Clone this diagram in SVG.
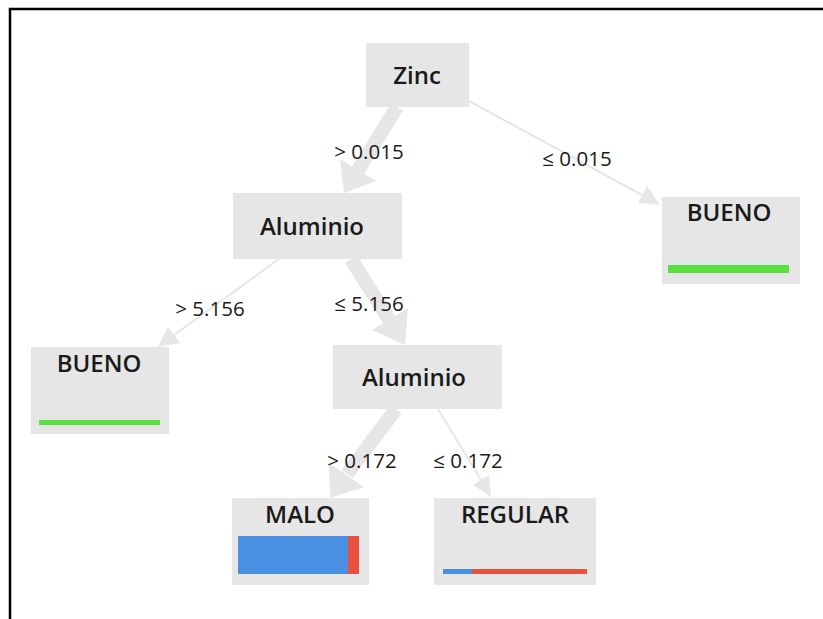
<svg xmlns="http://www.w3.org/2000/svg" width="823" height="619" viewBox="0 0 823 619">
<style>
.node{fill:#e6e6e6}
.title{font-family:"Open Sans","Liberation Sans",sans-serif;font-weight:600;font-size:24px;fill:#1a1a1a;text-anchor:middle}
.lbl{font-family:"Open Sans","Liberation Sans",sans-serif;font-size:20.5px;fill:#1a1a1a;text-anchor:middle}
.thick{stroke:#e6e6e6;stroke-width:14;fill:none}
.thin{stroke:#e6e6e6;stroke-width:2;fill:none}
.head{fill:#e6e6e6}
.headthin{fill:#e6e6e6}
.green{fill:#5ce040}
.blue{fill:#4a90e2}
.red{fill:#e85040}
</style>
<rect width="823" height="619" fill="#ffffff"/>
<path d="M10,619 V9 H823" fill="none" stroke="#000" stroke-width="2.5"/>
<g id="connectors">
  <path class="thick" d="M397,107 L358,170"/>
  <polygon class="head" points="344,193 376,181 340,159"/>
  <path class="thin" d="M469,101 L642,195"/>
  <polygon class="headthin" points="660,205 647,186 638,203"/>
  <path class="thin" d="M279,259 L174,335"/>
  <polygon class="headthin" points="158,347 168,327 180,343"/>
  <path class="thick" d="M351,259 L390,321"/>
  <polygon class="head" points="405,345 372,330 408,308"/>
  <path class="thick" d="M396,409 L347,474"/>
  <polygon class="head" points="330,498 329,463 364,487"/>
  <path class="thin" d="M438,409 L481,480"/>
  <polygon class="headthin" points="491,497 473,485 489,475"/>
  <text class="lbl" x="369" y="159">&gt; 0.015</text>
  <text class="lbl" x="577" y="166">≤ 0.015</text>
  <text class="lbl" x="210" y="316">&gt; 5.156</text>
  <text class="lbl" x="369" y="311">≤ 5.156</text>
  <text class="lbl" x="362" y="468">&gt; 0.172</text>
  <text class="lbl" x="468" y="468">≤ 0.172</text>
</g>
<g id="zinc">
  <rect class="node" x="366" y="43" width="103" height="64"/>
  <text class="title" x="417" y="84">Zinc</text>
</g>
<g id="aluminio1">
  <rect class="node" x="233" y="193" width="169" height="66"/>
  <text class="title" x="312" y="235">Aluminio</text>
</g>
<g id="bueno-right">
  <rect class="node" x="662" y="197" width="138" height="87"/>
  <text class="title" x="729" y="221">BUENO</text>
  <rect class="green" x="668" y="265" width="121" height="8"/>
</g>
<g id="bueno-left">
  <rect class="node" x="31" y="347" width="138" height="87"/>
  <text class="title" x="99" y="372">BUENO</text>
  <rect class="green" x="39" y="420" width="121" height="5"/>
</g>
<g id="aluminio2">
  <rect class="node" x="333" y="345" width="169" height="64"/>
  <text class="title" x="414" y="386">Aluminio</text>
</g>
<g id="malo">
  <rect class="node" x="232" y="498" width="137" height="87"/>
  <text class="title" x="300" y="523">MALO</text>
  <rect class="blue" x="238" y="536" width="110" height="38"/>
  <rect class="red" x="348" y="536" width="11" height="38"/>
</g>
<g id="regular">
  <rect class="node" x="434" y="498" width="162" height="87"/>
  <text class="title" x="515" y="523">REGULAR</text>
  <rect class="blue" x="443" y="569" width="29" height="5"/>
  <rect class="red" x="472" y="569" width="115" height="5"/>
</g>
</svg>
